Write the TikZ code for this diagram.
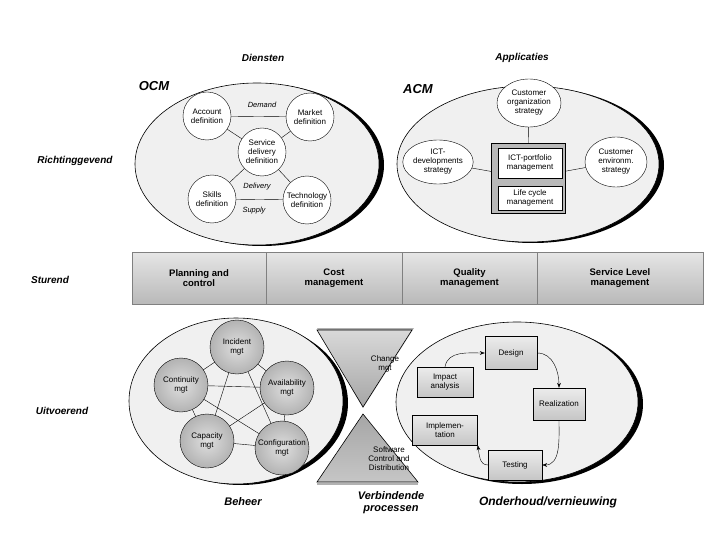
\documentclass[tikz,border=0pt]{standalone}
\usepackage{fontspec}
\setmainfont{Liberation Sans}
\usetikzlibrary{arrows.meta,shapes.geometric}
\tikzset{
  big/.style={draw, ellipse, fill=gray!12, line width=0.6pt},
  bgshadow/.style={fill=black},
  wcirc/.style={draw, circle, fill=white, minimum size=48pt, inner sep=0pt, align=center, font=\fontsize{8}{9}\selectfont},
  gcirc/.style={draw, circle, inner color=gray!25, outer color=gray!60, minimum size=54pt, inner sep=0pt, align=center, font=\fontsize{8}{9}\selectfont},
  oval/.style={draw, ellipse, fill=white, inner sep=0pt, align=center, font=\fontsize{8}{9}\selectfont},
  wbox/.style={draw, fill=white, align=center, font=\fontsize{8}{9}\selectfont},
  gbox/.style={draw, top color=gray!15, bottom color=gray!45, align=center, font=\fontsize{8}{9}\selectfont},
  head/.style={font=\fontsize{10}{11}\selectfont\bfseries\itshape},
  side/.style={font=\fontsize{10}{11}\selectfont\bfseries\itshape, anchor=center},
  small/.style={font=\fontsize{7.5}{8.5}\selectfont\itshape},
  band/.style={draw=gray, top color=gray!20, bottom color=gray!55, align=center, font=\fontsize{9.5}{10.5}\selectfont\bfseries},
  cyc/.style={-{Stealth[length=5pt]}, thin},
}
\begin{document}
\begin{tikzpicture}[x=1pt,y=-1pt]
    \useasboundingbox (0,0) rectangle (720,540);

    % Headings
    \node[head] (dien) at (263,58) {Diensten};
    \node[head] (appl) at (522,58) {Applicaties};
    \node[side] (richt) at (75,161) {Richtinggevend};
    \node[side] (stur) at (50,280) {Sturend};
    \node[side] (uitv) at (62,411) {Uitvoerend};

    % OCM
    \fill[bgshadow] (262,165) ellipse (122 and 81);
    \node[big, minimum width=244pt, minimum height=162pt] (ocm) at (257,164) {};
    \node[head, font=\fontsize{13}{14}\selectfont\bfseries\itshape] (ocmlab) at (154,86) {OCM};
    \node[wcirc] (acc) at (207,116) {Account\\definition};
    \node[wcirc] (mark) at (310,117) {Market\\definition};
    \node[wcirc] (serv) at (262,152) {Service\\delivery\\definition};
    \node[wcirc] (skil) at (212,199) {Skills\\definition};
    \node[wcirc] (tech) at (307,200) {Technology\\definition};
    \draw (acc) -- (mark);
    \draw (acc) -- (serv);
    \draw (mark) -- (serv);
    \draw (serv) -- (skil);
    \draw (serv) -- (tech);
    \draw (skil) -- (tech);
    \node[small] (dem) at (262,105) {Demand};
    \node[small] (deliv) at (257,187) {Delivery};
    \node[small] (sup) at (254,211) {Supply};

    % ACM
    \fill[bgshadow] (533,165) ellipse (131 and 78);
    \node[big, minimum width=262pt, minimum height=156pt] (acm) at (528,164) {};
    \node[head, font=\fontsize{13}{14}\selectfont\bfseries\itshape] (acmlab) at (418,89) {ACM};
    \node[oval, minimum width=64pt, minimum height=48pt] (corg) at (529,103) {Customer\\organization\\strategy};
    \node[oval, minimum width=66pt, minimum height=44pt] (ictdev) at (438,162) {ICT-\\developments\\strategy};
    \node[oval, minimum width=62pt, minimum height=50pt] (cenv) at (616,162) {Customer\\environm.\\strategy};
    \node[draw, fill=gray!55, minimum width=74pt, minimum height=70pt] (port) at (528,178) {};
    \node[wbox, minimum width=64pt, minimum height=30pt] (ictp) at (530,163) {ICT-portfolio\\management};
    \node[wbox, minimum width=64pt, minimum height=24pt] (life) at (530,198) {Life cycle\\management};
    \draw (corg) -- (port);
    \draw (ictdev) -- (port);
    \draw (cenv) -- (port);

    % Band
    \node[band, minimum width=134pt, minimum height=52pt] (plan) at (199,278) {Planning and\\control};
    \node[band, minimum width=136pt, minimum height=52pt] (cost) at (334,278) {Cost\\management};
    \node[band, minimum width=135pt, minimum height=52pt] (qual) at (469.5,278) {Quality\\management};
    \node[band, minimum width=166pt, minimum height=52pt] (slm) at (620,278) {Service Level\\management};

    % Beheer
    \fill[bgshadow] (241,403) ellipse (107 and 82);
    \node[big, minimum width=214pt, minimum height=166pt] (beh) at (236,401) {};
    \coordinate (pinc) at (237,347);
    \coordinate (pcont) at (181,385);
    \coordinate (pavail) at (287,388);
    \coordinate (pcap) at (207,441);
    \coordinate (pconf) at (282,448);
    \foreach \a/\b in {inc/cont,inc/avail,inc/cap,inc/conf,cont/avail,cont/cap,cont/conf,avail/cap,avail/conf,cap/conf}
      \draw (p\a) -- (p\b);
    \node[gcirc] (inc) at (pinc) {Incident\\mgt};
    \node[gcirc] (cont) at (pcont) {Continuity\\mgt};
    \node[gcirc] (avail) at (pavail) {Availability\\mgt};
    \node[gcirc] (cap) at (pcap) {Capacity\\mgt};
    \node[gcirc] (conf) at (pconf) {Configuration\\mgt};
    \node[head, font=\fontsize{11}{12}\selectfont\bfseries\itshape] (behlab) at (243,502) {Beheer};

    % Verbindende processen
    \fill[gray!60] (317,328) -- (414,328) -- (363,408) -- cycle;
    \draw[line width=0.6pt, top color=gray!30, bottom color=gray!70] (317,330) -- (412,330) -- (363,407) -- cycle;
    \draw[line width=0.6pt, top color=gray!70, bottom color=gray!45] (363,414) -- (418,482) -- (317,482) -- cycle;
    \draw[gray!60, line width=2pt] (317,484) -- (418,484);
    \node[align=center, font=\fontsize{8}{9}\selectfont] (chg) at (385,364) {Change\\mgt};
    \node[align=center, font=\fontsize{8}{9}\selectfont] (scd) at (389,459) {Software\\Control and\\Distribution};
    \node[head, align=center, font=\fontsize{11}{12}\selectfont\bfseries\itshape] (verb) at (391,503) {Verbindende\\processen};

    % Onderhoud
    \fill[bgshadow] (522,404) ellipse (121 and 80);
    \node[big, minimum width=242pt, minimum height=160pt] (ond) at (517,402) {};
    \node[gbox, minimum width=52pt, minimum height=33pt] (des) at (511,353) {Design};
    \node[gbox, minimum width=56pt, minimum height=30pt] (imp) at (445,382) {Impact\\analysis};
    \node[gbox, minimum width=52pt, minimum height=32pt] (real) at (559,404) {Realization};
    \node[gbox, minimum width=65pt, minimum height=30pt] (impl) at (445,430) {Implemen-\\tation};
    \node[gbox, minimum width=54pt, minimum height=30pt] (test) at (515,465) {Testing};
    \draw[cyc] (imp.north) to[out=80,in=180] (des.west);
    \draw[cyc] (des.east) to[out=0,in=90] (real.north);
    \draw[cyc] (real.south) to[out=-90,in=0] (test.east);
    \draw[cyc] (test.west) to[out=180,in=-80] (impl.south east);
    \node[head, font=\fontsize{12}{13}\selectfont\bfseries\itshape] (ondlab) at (548,502) {Onderhoud/vernieuwing};
\end{tikzpicture}
\end{document}
